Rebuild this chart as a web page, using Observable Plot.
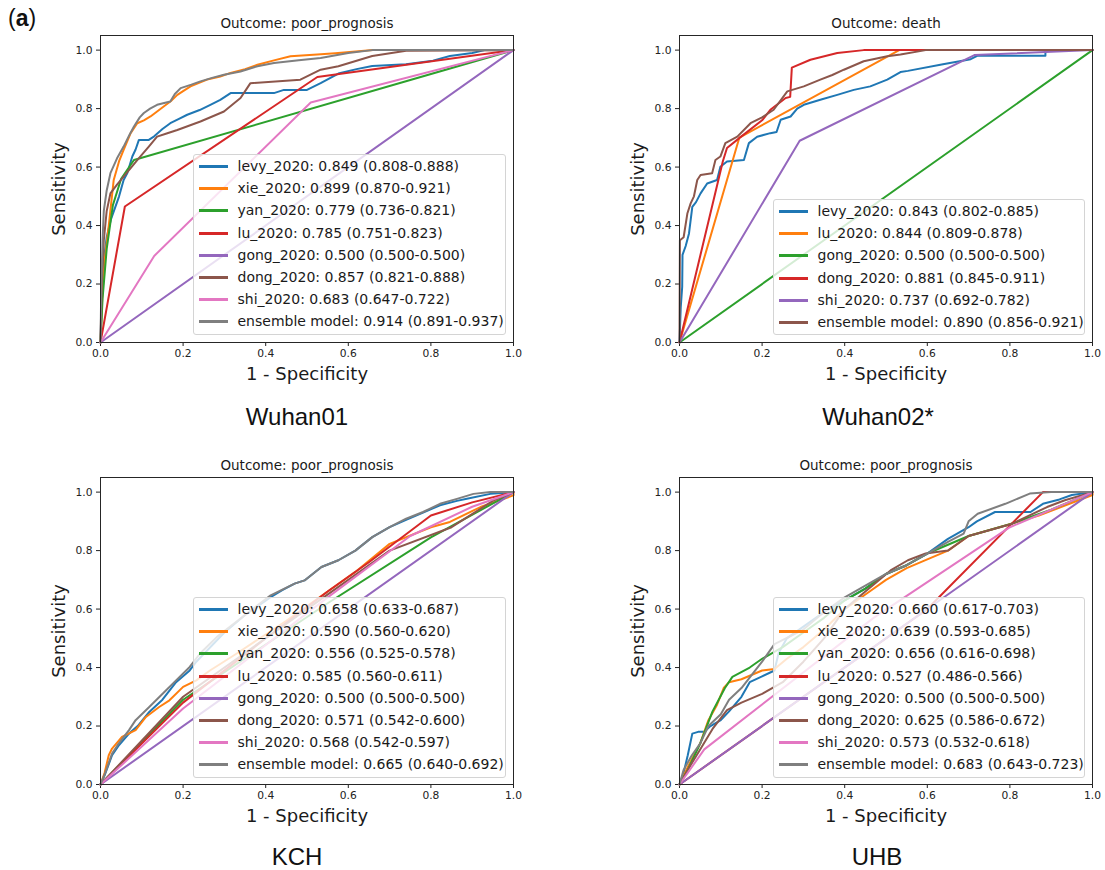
<!DOCTYPE html>
<html><head><meta charset="utf-8">
<script src="https://cdn.jsdelivr.net/npm/d3@7"></script>
<script src="https://cdn.jsdelivr.net/npm/@observablehq/plot@0.6"></script>
<style>
body{margin:0;background:#fff;}
#root{position:relative;width:1105px;height:870px;overflow:hidden;font-family:"DejaVu Sans",sans-serif;}
.panel{position:absolute;}
.legend{position:absolute;background:rgba(255,255,255,0.8);border:1px solid #d4d4d4;border-radius:3px;box-sizing:border-box;font-family:"DejaVu Sans",sans-serif;font-size:14px;color:#1a1a1a;}
.row{position:absolute;left:0;height:22px;display:flex;align-items:center;white-space:nowrap;}
.swatch{display:inline-block;width:29px;height:3px;margin-left:5px;margin-right:9.5px;}
.plabel{position:absolute;font-family:"Liberation Sans",Arial,sans-serif;font-size:24px;color:#111;transform:translate(-50%,-50%);white-space:nowrap;}
</style>
</head><body>
<div id="root"></div>
<script>
// ---------- colours (matplotlib tab10) ----------
const tab10 = ["#1f77b4","#ff7f0e","#2ca02c","#d62728","#9467bd","#8c564b","#e377c2","#7f7f7f"];

// ---------- tick values ----------
const xTicks = [0, 0.2, 0.4, 0.6, 0.8, 1.0];
const yTicks = [0, 0.2, 0.4, 0.6, 0.8, 1.0];

// ---------- panel text ----------
const panelNames = ["Wuhan01", "Wuhan02*", "KCH", "UHB"];
const panelTitles = ["Outcome: poor_prognosis", "Outcome: death", "Outcome: poor_prognosis", "Outcome: poor_prognosis"];

// ================= Wuhan01 =================
const w1_labels = [
  "levy_2020: 0.849 (0.808-0.888)",
  "xie_2020: 0.899 (0.870-0.921)",
  "yan_2020: 0.779 (0.736-0.821)",
  "lu_2020: 0.785 (0.751-0.823)",
  "gong_2020: 0.500 (0.500-0.500)",
  "dong_2020: 0.857 (0.821-0.888)",
  "shi_2020: 0.683 (0.647-0.722)",
  "ensemble model: 0.914 (0.891-0.937)"
];
const w1_levy = [[0,0],[0.003,0.15],[0.008,0.28],[0.015,0.36],[0.025,0.42],[0.036,0.464],[0.045,0.5],[0.056,0.556],[0.065,0.58],[0.077,0.636],[0.085,0.66],[0.093,0.693],[0.117,0.693],[0.13,0.705],[0.15,0.73],[0.169,0.75],[0.19,0.765],[0.21,0.779],[0.24,0.795],[0.266,0.813],[0.29,0.83],[0.315,0.853],[0.42,0.853],[0.444,0.864],[0.5,0.864],[0.533,0.887],[0.576,0.92],[0.62,0.935],[0.658,0.946],[0.74,0.952],[0.805,0.964],[0.846,0.98],[0.9,0.99],[0.93,1],[1,1]];
const w1_xie = [[0,0],[0.004,0.15],[0.01,0.28],[0.02,0.4],[0.032,0.556],[0.045,0.62],[0.056,0.659],[0.073,0.716],[0.089,0.75],[0.105,0.76],[0.121,0.773],[0.137,0.79],[0.153,0.807],[0.17,0.825],[0.186,0.847],[0.2,0.86],[0.218,0.876],[0.258,0.899],[0.29,0.91],[0.315,0.922],[0.35,0.935],[0.38,0.95],[0.42,0.965],[0.46,0.979],[0.525,0.985],[0.568,0.989],[0.66,1],[1,1]];
const w1_yan = [[0,0],[0.005,0.15],[0.015,0.32],[0.03,0.47],[0.05,0.56],[0.081,0.624],[1,1]];
const w1_lu = [[0,0],[0.059,0.465],[0.525,0.908],[1,1]];
const w1_gong = [[0,0],[1,1]];
const w1_dong = [[0,0],[0.003,0.2],[0.008,0.35],[0.015,0.45],[0.024,0.51],[0.04,0.54],[0.056,0.567],[0.075,0.6],[0.089,0.624],[0.105,0.65],[0.117,0.67],[0.137,0.704],[0.16,0.715],[0.186,0.727],[0.242,0.756],[0.299,0.79],[0.339,0.836],[0.355,0.87],[0.363,0.887],[0.484,0.899],[0.533,0.933],[0.576,0.945],[0.658,0.98],[0.74,0.998],[1,1]];
const w1_shi = [[0,0],[0.13,0.296],[0.509,0.821],[1,1]];
const w1_ens = [[0,0],[0.002,0.2],[0.005,0.35],[0.008,0.45],[0.015,0.52],[0.024,0.579],[0.04,0.63],[0.056,0.67],[0.07,0.71],[0.081,0.739],[0.095,0.77],[0.105,0.785],[0.12,0.8],[0.137,0.813],[0.169,0.824],[0.18,0.85],[0.194,0.87],[0.22,0.882],[0.242,0.893],[0.27,0.905],[0.299,0.916],[0.339,0.927],[0.38,0.945],[0.42,0.956],[0.48,0.965],[0.533,0.973],[0.6,0.99],[0.658,1],[1,1]];

// ================= Wuhan02* =================
const w2_labels = [
  "levy_2020: 0.843 (0.802-0.885)",
  "lu_2020: 0.844 (0.809-0.878)",
  "gong_2020: 0.500 (0.500-0.500)",
  "dong_2020: 0.881 (0.845-0.911)",
  "shi_2020: 0.737 (0.692-0.782)",
  "ensemble model: 0.890 (0.856-0.921)"
];
const w2_levy = [[0,0],[0.003,0.12],[0.0065,0.19],[0.0073,0.3],[0.015,0.33],[0.023,0.373],[0.031,0.464],[0.04,0.48],[0.051,0.51],[0.067,0.544],[0.091,0.556],[0.099,0.601],[0.115,0.619],[0.156,0.624],[0.168,0.682],[0.188,0.704],[0.22,0.716],[0.235,0.72],[0.245,0.762],[0.269,0.773],[0.285,0.8],[0.301,0.813],[0.341,0.83],[0.382,0.847],[0.422,0.864],[0.462,0.876],[0.503,0.899],[0.535,0.925],[0.553,0.929],[0.638,0.952],[0.705,0.969],[0.722,0.981],[0.886,0.981],[0.886,1],[1,1]];
const w2_lu = [[0,0],[0.145,0.701],[0.532,1],[1,1]];
const w2_gong = [[0,0],[1,1]];
const w2_dong = [[0,0],[0.105,0.62],[0.115,0.665],[0.15,0.705],[0.2,0.76],[0.22,0.796],[0.257,0.836],[0.268,0.84],[0.272,0.94],[0.317,0.967],[0.382,0.99],[0.446,1],[1,1]];
const w2_shi = [[0,0],[0.291,0.69],[0.714,0.983],[1,1]];
const w2_ens = [[0,0],[0.001,0.35],[0.01,0.36],[0.019,0.441],[0.027,0.476],[0.035,0.5],[0.043,0.556],[0.051,0.573],[0.079,0.579],[0.087,0.624],[0.099,0.636],[0.111,0.682],[0.14,0.704],[0.172,0.75],[0.2,0.77],[0.228,0.796],[0.261,0.859],[0.301,0.876],[0.341,0.899],[0.37,0.915],[0.398,0.933],[0.446,0.962],[0.503,0.979],[0.535,0.985],[0.596,1],[1,1]];

// ================= KCH =================
const k_labels = [
  "levy_2020: 0.658 (0.633-0.687)",
  "xie_2020: 0.590 (0.560-0.620)",
  "yan_2020: 0.556 (0.525-0.578)",
  "lu_2020: 0.585 (0.560-0.611)",
  "gong_2020: 0.500 (0.500-0.500)",
  "dong_2020: 0.571 (0.542-0.600)",
  "shi_2020: 0.568 (0.542-0.597)",
  "ensemble model: 0.665 (0.640-0.692)"
];
const k_levy = [[0,0],[0.011,0.035],[0.028,0.1],[0.045,0.135],[0.069,0.174],[0.09,0.2],[0.118,0.248],[0.15,0.29],[0.183,0.35],[0.216,0.39],[0.232,0.42],[0.3,0.52],[0.35,0.58],[0.412,0.641],[0.44,0.665],[0.47,0.687],[0.494,0.698],[0.535,0.744],[0.576,0.767],[0.617,0.8],[0.658,0.846],[0.7,0.88],[0.74,0.905],[0.781,0.93],[0.822,0.955],[0.863,0.97],[0.887,0.977],[0.944,0.994],[1,1]];
const k_xie = [[0,0],[0.01,0.04],[0.02,0.1],[0.028,0.123],[0.052,0.163],[0.085,0.186],[0.11,0.231],[0.142,0.265],[0.167,0.288],[0.2,0.334],[0.232,0.356],[0.265,0.39],[0.33,0.448],[0.45,0.56],[0.55,0.66],[0.617,0.727],[0.7,0.823],[0.8,0.88],[0.846,0.898],[0.92,0.949],[1,0.989],[1,1]];
const k_yan = [[0,0],[0.2,0.29],[0.55,0.62],[0.8,0.845],[1,1]];
const k_lu = [[0,0],[0.2,0.28],[0.4,0.5],[0.55,0.66],[0.65,0.76],[0.8,0.92],[0.9,0.965],[1,1]];
const k_gong = [[0,0],[1,1]];
const k_dong = [[0,0],[0.2,0.3],[0.5,0.6],[0.7,0.8],[0.85,0.88],[0.95,0.97],[1,1]];
const k_shi = [[0,0],[0.2,0.26],[0.55,0.64],[0.75,0.85],[0.9,0.95],[1,1]];
const k_ens = [[0,0],[0.011,0.038],[0.028,0.106],[0.044,0.14],[0.069,0.186],[0.085,0.22],[0.118,0.265],[0.151,0.311],[0.183,0.356],[0.216,0.402],[0.241,0.448],[0.282,0.505],[0.35,0.58],[0.412,0.647],[0.47,0.687],[0.494,0.698],[0.535,0.744],[0.576,0.767],[0.617,0.8],[0.658,0.846],[0.7,0.88],[0.74,0.909],[0.781,0.932],[0.822,0.96],[0.863,0.977],[0.903,0.994],[0.944,1],[1,1]];

// ================= UHB =================
const u_labels = [
  "levy_2020: 0.660 (0.617-0.703)",
  "xie_2020: 0.639 (0.593-0.685)",
  "yan_2020: 0.656 (0.616-0.698)",
  "lu_2020: 0.527 (0.486-0.566)",
  "gong_2020: 0.500 (0.500-0.500)",
  "dong_2020: 0.625 (0.586-0.672)",
  "shi_2020: 0.573 (0.532-0.618)",
  "ensemble model: 0.683 (0.643-0.723)"
];
const u_levy = [[0,0],[0.01,0.04],[0.02,0.1],[0.031,0.174],[0.045,0.18],[0.06,0.18],[0.075,0.2],[0.1,0.22],[0.12,0.25],[0.15,0.3],[0.17,0.35],[0.2,0.37],[0.23,0.39],[0.24,0.45],[0.26,0.5],[0.3,0.54],[0.35,0.59],[0.4,0.63],[0.45,0.67],[0.5,0.72],[0.55,0.75],[0.6,0.79],[0.65,0.84],[0.7,0.88],[0.72,0.9],[0.764,0.932],[0.85,0.932],[0.88,0.96],[0.92,0.975],[0.95,0.99],[1,1]];
const u_xie = [[0,0],[0.02,0.06],[0.05,0.14],[0.07,0.22],[0.09,0.27],[0.107,0.33],[0.12,0.35],[0.15,0.36],[0.2,0.39],[0.23,0.395],[0.26,0.43],[0.3,0.47],[0.35,0.53],[0.4,0.6],[0.45,0.65],[0.5,0.7],[0.55,0.74],[0.6,0.77],[0.65,0.8],[0.7,0.85],[0.8,0.89],[0.87,0.92],[1,0.99],[1,1]];
const u_yan = [[0,0],[0.02,0.05],[0.05,0.14],[0.08,0.25],[0.11,0.33],[0.128,0.368],[0.17,0.4],[0.2,0.43],[0.25,0.47],[0.3,0.52],[0.35,0.57],[0.4,0.63],[0.45,0.67],[0.5,0.72],[0.55,0.75],[0.6,0.79],[0.7,0.85],[0.8,0.89],[0.9,0.94],[1,1]];
const u_lu = [[0,0],[0.6,0.6],[0.88,1],[1,1]];
const u_gong = [[0,0],[1,1]];
const u_dong = [[0,0],[0.02,0.05],[0.05,0.12],[0.08,0.19],[0.115,0.254],[0.15,0.28],[0.2,0.31],[0.25,0.35],[0.3,0.42],[0.35,0.5],[0.4,0.6],[0.45,0.66],[0.511,0.732],[0.553,0.767],[0.596,0.79],[0.65,0.8],[0.7,0.85],[0.806,0.892],[0.89,0.949],[0.933,0.972],[1,1]];
const u_shi = [[0,0],[0.06,0.12],[0.47,0.57],[0.8,0.88],[1,1]];
const u_ens = [[0,0],[0.01,0.05],[0.03,0.1],[0.05,0.14],[0.07,0.2],[0.1,0.24],[0.12,0.29],[0.15,0.33],[0.2,0.42],[0.23,0.48],[0.3,0.53],[0.35,0.59],[0.4,0.64],[0.45,0.68],[0.5,0.72],[0.55,0.75],[0.6,0.79],[0.65,0.83],[0.688,0.858],[0.7,0.9],[0.722,0.926],[0.789,0.96],[0.848,0.995],[0.9,1],[1,1]];

// ---------- layout ----------
const root = document.getElementById("root");

function makePanel(cfg) {
  const {left, top, width, height, mt, mb, ml, mr, title, series, labels, colors, legend, name, nameX, nameY} = cfg;
  const marks = [];
  series.forEach((pts, i) => {
    marks.push(Plot.line(pts, {x: d => d[0], y: d => d[1], stroke: colors[i], strokeWidth: 2, strokeLinejoin: "round"}));
  });
  marks.push(Plot.frame({stroke: "#262626", strokeWidth: 1}));
  marks.push(Plot.text([title], {text: d => d, frameAnchor: "top", lineAnchor: "middle", dy: -12, fontSize: 13.5, fill: "#1a1a1a"}));
  marks.push(Plot.text(["Sensitivity"], {text: d => d, frameAnchor: "left", lineAnchor: "middle", textAnchor: "middle", dx: -41, rotate: -90, fontSize: 18, fill: "#1a1a1a"}));
  marks.push(Plot.text(["1 - Specificity"], {text: d => d, frameAnchor: "bottom", lineAnchor: "middle", dy: 32, fontSize: 18, fill: "#1a1a1a"}));
  const svg = Plot.plot({
    width, height,
    marginTop: mt, marginBottom: mb, marginLeft: ml, marginRight: mr,
    style: {fontFamily: "DejaVu Sans, sans-serif", fontSize: "10.7px", color: "#222", background: "transparent", overflow: "visible"},
    x: {domain: [0, 1], ticks: xTicks, tickFormat: d3.format(".1f"), label: null, tickSize: 4, tickPadding: 2.5},
    y: {domain: [0, 1.05], ticks: yTicks, tickFormat: d3.format(".1f"), label: null, tickSize: 4, tickPadding: 4},
    marks
  });
  const wrap = document.createElement("div");
  wrap.className = "panel";
  wrap.style.left = left + "px";
  wrap.style.top = top + "px";
  wrap.appendChild(svg);
  root.appendChild(wrap);

  // legend
  const lg = document.createElement("div");
  lg.className = "legend";
  lg.style.left = legend.x + "px";
  lg.style.top = legend.y + "px";
  lg.style.width = legend.w + "px";
  lg.style.height = legend.h + "px";
  labels.forEach((lab, i) => {
    const r = document.createElement("div");
    r.className = "row";
    r.style.top = Math.round(i * 22.2) + "px";
    const sw = document.createElement("span");
    sw.className = "swatch";
    sw.style.background = colors[i];
    const tx = document.createElement("span");
    tx.textContent = lab;
    r.appendChild(sw); r.appendChild(tx);
    lg.appendChild(r);
  });
  root.appendChild(lg);

  const nm = document.createElement("div");
  nm.className = "plabel";
  nm.style.left = nameX + "px";
  nm.style.top = nameY + "px";
  nm.textContent = name;
  root.appendChild(nm);
}

makePanel({left: 0, top: 0, width: 540, height: 400, mt: 35, mb: 58, ml: 100, mr: 27,
  title: panelTitles[0], name: panelNames[0], nameX: 297, nameY: 417,
  series: [w1_levy, w1_xie, w1_yan, w1_lu, w1_gong, w1_dong, w1_shi, w1_ens],
  labels: w1_labels, colors: tab10,
  legend: {x: 193, y: 154, w: 313, h: 181}});

makePanel({left: 560, top: 0, width: 545, height: 400, mt: 35, mb: 58, ml: 119, mr: 13,
  title: panelTitles[1], name: panelNames[1], nameX: 878, nameY: 417,
  series: [w2_levy, w2_lu, w2_gong, w2_dong, w2_shi, w2_ens],
  labels: w2_labels, colors: tab10.slice(0, 6),
  legend: {x: 773, y: 199, w: 312, h: 136}});

makePanel({left: 0, top: 440, width: 540, height: 400, mt: 37, mb: 56, ml: 100, mr: 27,
  title: panelTitles[2], name: panelNames[2], nameX: 297, nameY: 857,
  series: [k_levy, k_xie, k_yan, k_lu, k_gong, k_dong, k_shi, k_ens],
  labels: k_labels, colors: tab10,
  legend: {x: 193, y: 597, w: 313, h: 181}});

makePanel({left: 560, top: 440, width: 545, height: 400, mt: 37, mb: 56, ml: 119, mr: 13,
  title: panelTitles[3], name: panelNames[3], nameX: 877, nameY: 857,
  series: [u_levy, u_xie, u_yan, u_lu, u_gong, u_dong, u_shi, u_ens],
  labels: u_labels, colors: tab10,
  legend: {x: 773, y: 597, w: 312, h: 181}});

// panel tag
const tag = document.createElement("div");
tag.style.cssText = "position:absolute;left:8px;top:5px;font-family:'Liberation Sans',Arial,sans-serif;font-size:23px;color:#111;";
tag.innerHTML = "(<b>a</b>)";
root.appendChild(tag);
</script>
</body></html>
